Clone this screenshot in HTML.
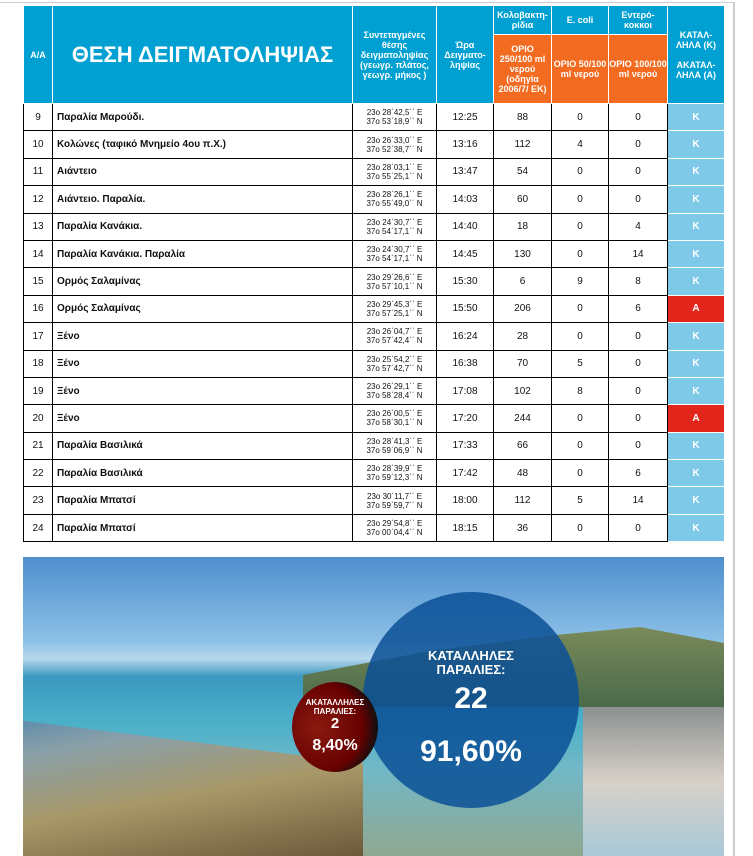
<!DOCTYPE html>
<html><head><meta charset="utf-8"><style>
body{margin:0;width:753px;height:856px;background:#fff;position:relative;overflow:hidden;font-family:"Liberation Sans","DejaVu Sans",sans-serif;}
table{position:absolute;left:23px;top:5px;border-collapse:collapse;table-layout:fixed;}
td,th{border:1px solid #000;padding:0;text-align:center;font-size:10px;color:#111;}
th{background:#00a0d2;color:#fff;border-color:#fff;font-weight:bold;font-size:9px;line-height:10px;}
th.o{background:#f26b21;}
tbody td{height:26.4px;}
td.n{text-align:left;padding-left:4px;font-weight:bold;}
td.c{font-size:8px;line-height:9px;}
td.k{background:#7ec8e8;color:#fff;font-weight:bold;border-color:#fff;}
td.a{background:#e2261c;color:#fff;font-weight:bold;border-color:#fff;}
.img{position:absolute;left:23px;top:557px;width:701px;height:299px;overflow:hidden;
background:linear-gradient(180deg,#4f8fcf 0%,#8cc0e6 28%,#b8d8ec 34%,#3a98c0 40%,#4ab0c8 55%,#70b8c8 70%,#90a890 100%);}
</style></head><body>
<div style="position:absolute;left:0;top:2px;width:733px;height:1px;background:#ccc"></div>
<div style="position:absolute;left:733px;top:2px;width:2px;height:854px;background:#ccc"></div>
<table>
<colgroup><col style="width:29px"><col style="width:300px"><col style="width:84px"><col style="width:57px"><col style="width:58px"><col style="width:57px"><col style="width:59px"><col style="width:57px"></colgroup>
<thead>
<tr style="height:29px"><th rowspan="2">Α/Α</th><th rowspan="2" style="font-size:22px;line-height:24px">ΘΕΣΗ ΔΕΙΓΜΑΤΟΛΗΨΙΑΣ</th><th rowspan="2">Συντεταγμένες θέσης δειγματοληψίας (γεωγρ. πλάτος, γεωγρ. μήκος )</th><th rowspan="2">Ώρα Δειγματο-ληψίας</th><th>Κολοβακτη-ρίδια</th><th>E. coli</th><th>Εντερό-κοκκοι</th><th rowspan="2">ΚΑΤΑΛ-ΛΗΛΑ (Κ)<br><br>ΑΚΑΤΑΛ-ΛΗΛΑ (Α)</th></tr>
<tr style="height:69px"><th class="o">ΟΡΙΟ 250/100 ml νερού (οδηγία 2006/7/ ΕΚ)</th><th class="o">ΟΡΙΟ 50/100 ml νερού</th><th class="o">ΟΡΙΟ 100/100 ml νερού</th></tr>
</thead>
<tbody>
<tr><td>9</td><td class="n">Παραλία Μαρούδι.</td><td class="c">23ο 28΄42,5΄΄ E<br>37ο 53΄18,9΄΄ N</td><td>12:25</td><td>88</td><td>0</td><td>0</td><td class="k">Κ</td></tr>
<tr><td>10</td><td class="n">Κολώνες (ταφικό Μνημείο 4ου π.Χ.)</td><td class="c">23ο 26΄33,0΄΄ E<br>37ο 52΄38,7΄΄ N</td><td>13:16</td><td>112</td><td>4</td><td>0</td><td class="k">Κ</td></tr>
<tr><td>11</td><td class="n">Αιάντειο</td><td class="c">23ο 28΄03,1΄΄ E<br>37ο 55΄25,1΄΄ N</td><td>13:47</td><td>54</td><td>0</td><td>0</td><td class="k">Κ</td></tr>
<tr><td>12</td><td class="n">Αιάντειο. Παραλία.</td><td class="c">23ο 28΄26,1΄΄ E<br>37ο 55΄49,0΄΄ N</td><td>14:03</td><td>60</td><td>0</td><td>0</td><td class="k">Κ</td></tr>
<tr><td>13</td><td class="n">Παραλία Κανάκια.</td><td class="c">23ο 24΄30,7΄΄ E<br>37ο 54΄17,1΄΄ N</td><td>14:40</td><td>18</td><td>0</td><td>4</td><td class="k">Κ</td></tr>
<tr><td>14</td><td class="n">Παραλία Κανάκια. Παραλία</td><td class="c">23ο 24΄30,7΄΄ E<br>37ο 54΄17,1΄΄ N</td><td>14:45</td><td>130</td><td>0</td><td>14</td><td class="k">Κ</td></tr>
<tr><td>15</td><td class="n">Ορμός Σαλαμίνας</td><td class="c">23ο 29΄26,6΄΄ E<br>37ο 57΄10,1΄΄ N</td><td>15:30</td><td>6</td><td>9</td><td>8</td><td class="k">Κ</td></tr>
<tr><td>16</td><td class="n">Ορμός Σαλαμίνας</td><td class="c">23ο 29΄45,3΄΄ E<br>37ο 57΄25,1΄΄ N</td><td>15:50</td><td>206</td><td>0</td><td>6</td><td class="a">Α</td></tr>
<tr><td>17</td><td class="n">Ξένο</td><td class="c">23ο 26΄04,7΄΄ E<br>37ο 57΄42,4΄΄ N</td><td>16:24</td><td>28</td><td>0</td><td>0</td><td class="k">Κ</td></tr>
<tr><td>18</td><td class="n">Ξένο</td><td class="c">23ο 25΄54,2΄΄ E<br>37ο 57΄42,7΄΄ N</td><td>16:38</td><td>70</td><td>5</td><td>0</td><td class="k">Κ</td></tr>
<tr><td>19</td><td class="n">Ξένο</td><td class="c">23ο 26΄29,1΄΄ E<br>37ο 58΄28,4΄΄ N</td><td>17:08</td><td>102</td><td>8</td><td>0</td><td class="k">Κ</td></tr>
<tr><td>20</td><td class="n">Ξένο</td><td class="c">23ο 26΄00,5΄΄ E<br>37ο 58΄30,1΄΄ N</td><td>17:20</td><td>244</td><td>0</td><td>0</td><td class="a">Α</td></tr>
<tr><td>21</td><td class="n">Παραλία Βασιλικά</td><td class="c">23ο 28΄41,3΄΄ E<br>37ο 59΄06,9΄΄ N</td><td>17:33</td><td>66</td><td>0</td><td>0</td><td class="k">Κ</td></tr>
<tr><td>22</td><td class="n">Παραλία Βασιλικά</td><td class="c">23ο 28΄39,9΄΄ E<br>37ο 59΄12,3΄΄ N</td><td>17:42</td><td>48</td><td>0</td><td>6</td><td class="k">Κ</td></tr>
<tr><td>23</td><td class="n">Παραλία Μπατσί</td><td class="c">23ο 30΄11,7΄΄ E<br>37ο 59΄59,7΄΄ N</td><td>18:00</td><td>112</td><td>5</td><td>14</td><td class="k">Κ</td></tr>
<tr><td>24</td><td class="n">Παραλία Μπατσί</td><td class="c">23ο 29΄54,8΄΄ E<br>37ο 00΄04,4΄΄ N</td><td>18:15</td><td>36</td><td>0</td><td>0</td><td class="k">Κ</td></tr>
</tbody></table>
<div class="img">
<div style="position:absolute;left:0;top:130px;width:340px;height:169px;background:linear-gradient(170deg,#3a7ab0 0%,#8aa0a8 30%,#a89868 60%,#6a5a3a 100%);clip-path:polygon(0 20%,100% 45%,100% 100%,0 100%);"></div>
<div style="position:absolute;left:280px;top:70px;width:421px;height:80px;background:linear-gradient(180deg,#7a8a5a,#4a6a4a);clip-path:polygon(0 60%,30% 30%,60% 10%,80% 0,100% 20%,100% 100%,0 100%);"></div>
<div style="position:absolute;left:560px;top:150px;width:141px;height:149px;background:linear-gradient(180deg,#8a9090,#d8d0c8 50%,#a8c8d8);"></div>
<div style="position:absolute;left:340px;top:35px;width:216px;height:216px;border-radius:50%;background:rgba(10,80,150,0.85);"></div>
<div style="position:absolute;left:269px;top:125px;width:86px;height:90px;border-radius:50%;background:radial-gradient(circle at 30% 50%,#8a1a10,#600 60%,#101010 80%);"></div>
<div style="position:absolute;left:340px;top:92px;width:216px;text-align:center;color:#fff;font-weight:bold;font-size:13px;line-height:14px">ΚΑΤΑΛΛΗΛΕΣ<br>ΠΑΡΑΛΙΕΣ:</div>
<div style="position:absolute;left:340px;top:125px;width:216px;text-align:center;color:#fff;font-weight:bold;font-size:30px">22</div>
<div style="position:absolute;left:340px;top:178px;width:216px;text-align:center;color:#fff;font-weight:bold;font-size:30px">91,60%</div>
<div style="position:absolute;left:269px;top:141px;width:86px;text-align:center;color:#fff;font-weight:bold;font-size:8px;line-height:9px">ΑΚΑΤΑΛΛΗΛΕΣ<br>ΠΑΡΑΛΙΕΣ:</div>
<div style="position:absolute;left:269px;top:158px;width:86px;text-align:center;color:#fff;font-weight:bold;font-size:15px">2</div>
<div style="position:absolute;left:269px;top:180px;width:86px;text-align:center;color:#fff;font-weight:bold;font-size:16px">8,40%</div>
</div>
</body></html>
